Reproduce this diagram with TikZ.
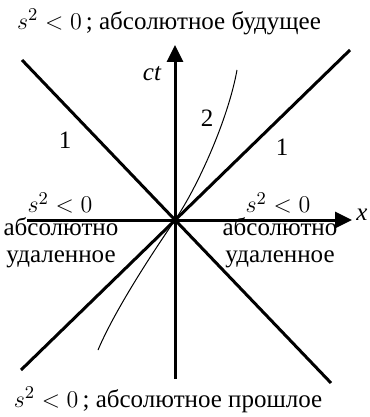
\documentclass[tikz,border=0pt]{standalone}
\usepackage{fontspec}
\setmainfont{Liberation Serif}
\usetikzlibrary{arrows.meta}
\begin{document}
\begin{tikzpicture}[x=0.5pt,y=-0.5pt,
  thickline/.style={line width=1.5pt},
  axisline/.style={line width=1.5pt,-{Triangle[length=8.5pt,width=8pt]}},
  worldline/.style={line width=0.5pt},
  lbl/.style={inner sep=0pt,font=\fontsize{12.5}{14.5}\selectfont}]
\useasboundingbox (0,0) rectangle (369,417);
\coordinate (O) at (175,220);
\coordinate (TL) at (22,60);
\coordinate (BR) at (331,383);
\coordinate (TR) at (350,50);
\coordinate (BL) at (21,370);
\coordinate (XL) at (27,220);
\coordinate (XR) at (352,220);
\coordinate (YB) at (175,379);
\coordinate (YT) at (175,45);
\coordinate (WT) at (237,70);
\coordinate (WB) at (98,350);
\draw[thickline] (TL) -- (BR);
\draw[thickline] (BL) -- (TR);
\draw[axisline] (XL) -- (XR);
\draw[axisline] (YB) -- (YT);
\draw[worldline] (WB) .. controls (115,310) and (151,255) .. (O)
  .. controls (197,188) and (228,120) .. (WT);
\node[lbl] (top) at (169,22) {$s^2 < 0$\,; абсолютное будущее};
\node[lbl] (bot) at (168,400) {$s^2 < 0$\,; абсолютное прошлое};
\node[lbl] (ct) at (152,74) {\itshape ct};
\node[lbl] (two) at (207,118) {2};
\node[lbl] (oneL) at (65,140) {1};
\node[lbl] (oneR) at (282,147) {1};
\node[lbl] (xl) at (362,215) {\itshape x};
\node[lbl] (sL) at (60,203) {$s^2 < 0$};
\node[lbl] (sR) at (278,203) {$s^2 < 0$};
\node[lbl,align=center] (aL) at (61,243) {абсолютно\\[-1pt]удаленное};
\node[lbl,align=center] (aR) at (280,243) {абсолютно\\[-1pt]удаленное};
\end{tikzpicture}
\end{document}
